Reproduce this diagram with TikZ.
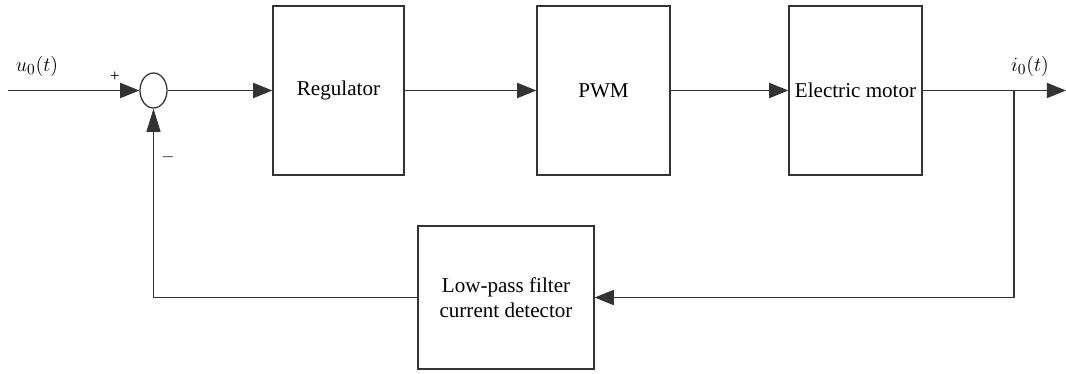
\documentclass[tikz,border=0pt]{standalone}
\usepackage{fontspec}
\setmainfont{Liberation Serif}
\usetikzlibrary{arrows.meta,shapes.geometric}
\begin{document}
\begin{tikzpicture}[x=0.025cm,y=-0.025cm,
  line/.style={draw=black!80,line width=0.9pt},
  arr/.style={line,-{Triangle[length=0.48cm,width=0.38cm]}},
  arrv/.style={line,-{Triangle[length=0.58cm,width=0.35cm]}},
  blk/.style={line,rectangle,inner sep=0pt,font=\fontsize{15}{18}\selectfont,align=center},
  lbl/.style={inner sep=0pt,font=\fontsize{15}{18}\selectfont},
  sgn/.style={inner sep=0pt,font=\fontsize{12}{14}\selectfont}]
\useasboundingbox (0,0) rectangle (1066,374);
\node[line,ellipse,minimum width=0.675cm,minimum height=0.875cm,inner sep=0pt] (sum) at (153.5,90.5) {};
\node[blk,minimum width=3.275cm,minimum height=4.225cm] (reg) at (338.5,90.5) {Regulator};
\node[blk,minimum width=3.325cm,minimum height=4.225cm] (pwm) at (603.5,90.5) {PWM};
\node[blk,minimum width=3.325cm,minimum height=4.225cm] (mot) at (855.5,90.5) {Electric motor};
\node[blk,minimum width=4.4cm,minimum height=3.575cm] (fil) at (506,297.5) {Low-pass filter\\current detector};
\coordinate (in) at (8,90.5);
\coordinate (out) at (1066,90.5);
\coordinate (br) at (1014,90.5);
\coordinate (brd) at (1014,297.5);
\coordinate (fbl) at (153.5,297.5);
\node[lbl] (ulbl) at (37,66) {$u_0(t)$};
\node[lbl] (ilbl) at (1030,66) {$i_0(t)$};
\node[sgn] (plus) at (115,77) {+};
\node[sgn] (minus) at (168,157) {$-$};
\draw[arr] (in) -- (sum.west);
\draw[arr] (sum.east) -- (reg.west);
\draw[arr] (reg.east) -- (pwm.west);
\draw[arr] (pwm.east) -- (mot.west);
\draw[arr] (mot.east) -- (out);
\draw[arr] (br) -- (brd) -- (fil.east);
\draw[arrv] (fil.west) -- (fbl) -- (sum.south);
\end{tikzpicture}
\end{document}
